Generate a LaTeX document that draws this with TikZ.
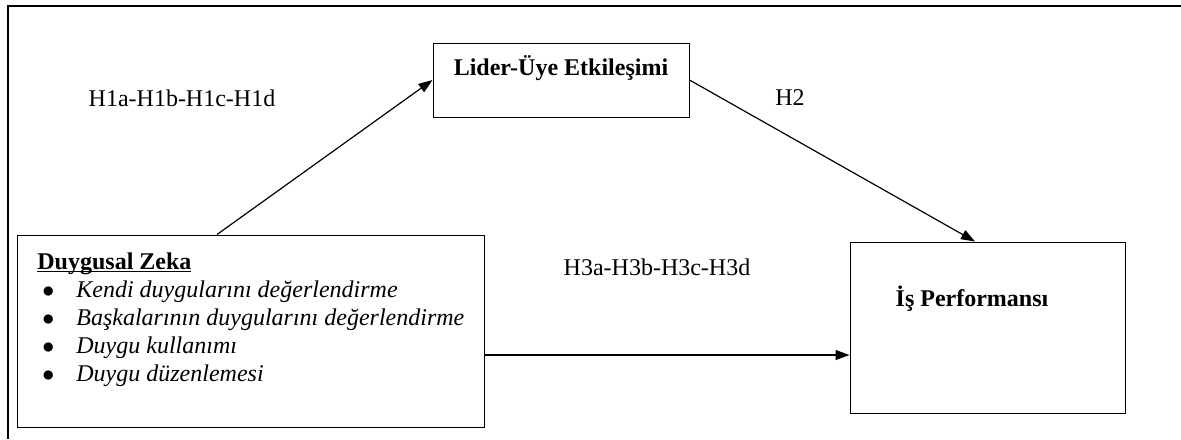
\documentclass[tikz,border=0pt]{standalone}
\usepackage{fontspec}
\setmainfont{Liberation Serif}
\usetikzlibrary{arrows.meta}

\newcommand{\dzitem}[1]{\hspace*{2.5pt}\makebox[17pt][l]{$\bullet$}\textit{#1}}

\begin{document}
\begin{tikzpicture}[x=0.5pt, y=-0.5pt,
  box/.style={draw, line width=0.5pt, inner sep=0pt},
  conn/.style={-{Triangle[length=7pt,width=5pt]}, line width=0.6pt},
  txt/.style={inner sep=0pt, font=\fontsize{12}{14}\selectfont},
  boldtxt/.style={inner sep=0pt, font=\fontsize{12}{14}\selectfont\bfseries}]
\useasboundingbox (0,0) rectangle (1181,439);
\draw[line width=1pt] (8,439) |- (1181,6);
% boxes
\node[box, minimum width=128pt, minimum height=37pt] (lmx) at (561,80) {};
\node[box, minimum width=233.5pt, minimum height=96pt] (dz) at (250.5,331) {};
\node[box, minimum width=137.5pt, minimum height=85.5pt] (is) at (987.5,327.5) {};
% box texts
\node[boldtxt] (lmxt) at (561,68) {Lider-Üye Etkileşimi};
\node[boldtxt] (ist) at (972,299) {İş Performansı};
\node[txt, align=left, anchor=north west] (dzt) at (37,252) {%
  {\bfseries\vphantom{Dl}\underline{\smash{Duygusal Zeka}}}\\
  \dzitem{Kendi duygularını değerlendirme}\\
  \dzitem{Başkalarının duygularını değerlendirme}\\
  \dzitem{Duygu kullanımı}\\
  \dzitem{Duygu düzenlemesi}};
% hypotheses
\node[txt] (h1) at (182,98) {H1a-H1b-H1c-H1d};
\node[txt] (h2) at (790,98) {H2};
\node[txt] (h3) at (657,267) {H3a-H3b-H3c-H3d};
% paths
\path[conn] ([xshift=-16.75pt]dz.north) edge (lmx.west);
\path[conn] (lmx.east) edge ([xshift=-6.25pt]is.north);
\path[conn] ([yshift=-12pt]dz.east) edge ([yshift=-12pt]dz.east -| is.west);
\end{tikzpicture}
\end{document}
